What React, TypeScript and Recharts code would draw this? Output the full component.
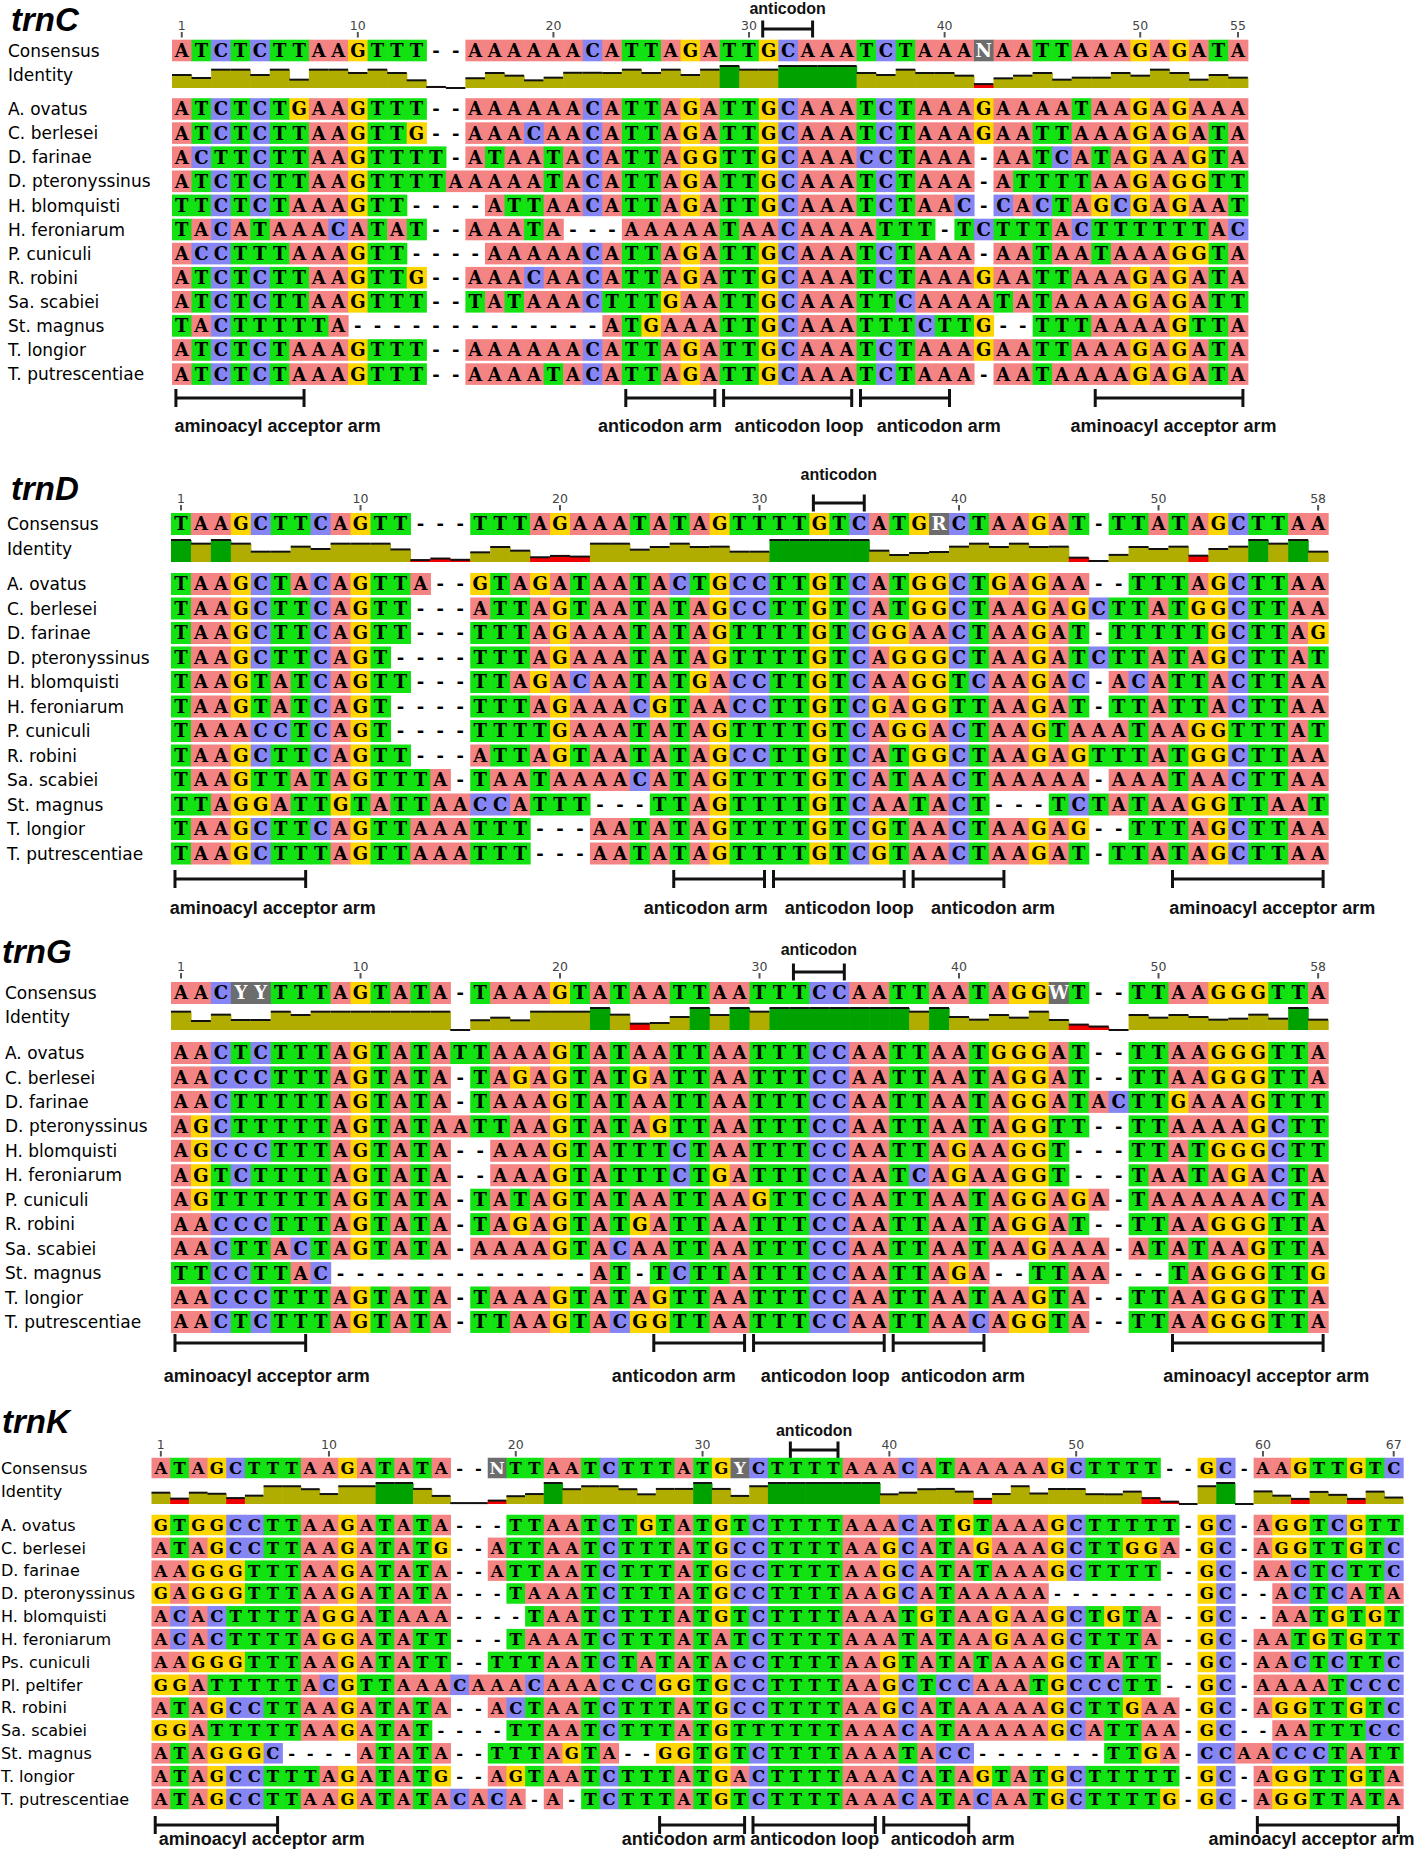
import React from 'react';
import { ComposedChart, Scatter, XAxis, YAxis, ReferenceLine } from 'recharts';

// ---------- trnC ----------
const trnCNames = ['A. ovatus', 'C. berlesei', 'D. farinae', 'D. pteronyssinus', 'H. blomquisti', 'H. feroniarum', 'P. cuniculi', 'R. robini', 'Sa. scabiei', 'St. magnus', 'T. longior', 'T. putrescentiae'];
const trnCConsensus = 'ATCTCTTAAGTTT--AAAAAACATTAGATTGCAAATCTAAANAATTAAAGAGATA';
const trnCSeqs = [
  'ATCTCTGAAGTTT--AAAAAACATTAGATTGCAAATCTAAAGAAAATAAGAGAAA',
  'ATCTCTTAAGTTG--AAACAACATTAGATTGCAAATCTAAAGAATTAAAGAGATA',
  'ACTTCTTAAGTTTT-ATAATACATTAGGTTGCAAACCTAAA-AATCATAGAAGTA',
  'ATCTCTTAAGTTTTAAAAATACATTAGATTGCAAATCTAAA-ATTTTAAGAGGTT',
  'TTCTCTAAAGTT----ATTAACATTAGATTGCAAATCTAAC-CACTAGCGAGAAT',
  'TACATAAACATAT--AAATA---AAAAATAACAAAATTT-TCTTTACTTTTTTAC',
  'ACCTTTAAAGTT----AAAAACATTAGATTGCAAATCTAAA-AATAATAAAGGTA',
  'ATCTCTTAAGTTG--AAACAACATTAGATTGCAAATCTAAAGAATTAAAGAGATA',
  'ATCTCTTAAGTTT--TATAAACTTTGAATTGCAAATTCAAAATATAAAAGAGATT',
  'TACTTTTTA-------------ATGAAATTGCAAATTTCTTG--TTTAAAAGTTA',
  'ATCTCTAAAGTTT--AAAAAACATTAGATTGCAAATCTAAAGAATTAAAGAGATA',
  'ATCTCTAAAGTTT--AAAATACATTAGATTGCAAATCTAAA-AATAAAAGAGATA',
];
const trnCTicks = [1, 10, 20, 30, 40, 50, 55];
const trnCAnticodon = [31, 33];
const trnCArms = [
  { label: 'aminoacyl acceptor arm', start: 1, end: 7, labelAt: 5.4 },
  { label: 'anticodon arm', start: 24, end: 28, labelAt: 24.95 },
  { label: 'anticodon loop', start: 29, end: 35, labelAt: 32.05 },
  { label: 'anticodon arm', start: 36, end: 40, labelAt: 39.2 },
  { label: 'aminoacyl acceptor arm', start: 48, end: 55, labelAt: 51.2 },
];

// ---------- trnD ----------
const trnDNames = trnCNames;
const trnDConsensus = 'TAAGCTTCAGTT---TTTAGAAATATAGTTTTGTCATGRCTAAGAT-TTATAGCTTAA';
const trnDSeqs = [
  'TAAGCTACAGTTA--GTAGATAATACTGCCTTGTCATGGCTGAGAA--TTTAGCTTAA',
  'TAAGCTTCAGTT---ATTAGTAATATAGCCTTGTCATGGCTAAGAGCTTATGGCTTAA',
  'TAAGCTTCAGTT---TTTAGAAATATAGTTTTGTCGGAACTAAGAT-TTTTTGCTTAG',
  'TAAGCTTCAGT----TTTAGAAATATAGTTTTGTCAGGGCTAAGATCTTATAGCTTAT',
  'TAAGTATCAGTT---TTAGACAATATGACCTTGTCAAGGTCAAGAC-ACATTACTTAA',
  'TAAGTATCAGT----TTTAGAAACGTAACCTTGTCGAGGTTAAGAT-TTATTACTTAA',
  'TAAACCTCAGT----TTTTGAAATATAGTTTTGTCAGGACTAAGTAAATAAGGTTTAT',
  'TAAGCTTCAGTT---ATTAGTAATATAGCCTTGTCATGGCTAAGAGTTTATGGCTTAA',
  'TAAGTTATAGTTTA-TAATAAAACATAGTTTTGTCATAACTAAAAA-AAATAACTTAA',
  'TTAGGATTGTATTAACCATTT---TTAGTTTTGTCAATACT---TCTATAAGGTTAAT',
  'TAAGCTTCAGTTAAATTT---AATATAGTTTTGTCGTAACTAAGAG--TTTAGCTTAA',
  'TAAGCTTTAGTTAAATTT---AATATAGTTTTGTCGTAACTAAGAT-TTATAGCTTAA',
];
const trnDTicks = [1, 10, 20, 30, 40, 50, 58];
const trnDAnticodon = [33, 35];
const trnDArms = [
  { label: 'aminoacyl acceptor arm', start: 1, end: 7, labelAt: 5.1 },
  { label: 'anticodon arm', start: 26, end: 30, labelAt: 26.8 },
  { label: 'anticodon loop', start: 31, end: 37, labelAt: 34.0 },
  { label: 'anticodon arm', start: 38, end: 42, labelAt: 41.2 },
  { label: 'aminoacyl acceptor arm', start: 51, end: 58, labelAt: 55.2 },
];

// ---------- trnG ----------
const trnGNames = trnCNames;
const trnGConsensus = 'AACYYTTTAGTATA-TAAAGTATAATTAATTTCCAATTAATAGGWT--TTAAGGGTTA';
const trnGSeqs = [
  'AACTCTTTAGTATATTAAAGTATAATTAATTTCCAATTAATGGGAT--TTAAGGGTTA',
  'AACCCTTTAGTATA-TAGAGTATGATTAATTTCCAATTAATAGGAT--TTAAGGGTTA',
  'AACTTTTTAGTATA-TAAAGTATAATTAATTTCCAATTAATAGGATACTTGAAAGTTT',
  'AGCTTTTTAGTATAATTAAGTATAGTTAATTTCCAATTAATAGGTT--TTAAAAGCTT',
  'AGCCCTTTAGTATA--AAAGTATTTCTAATTTCCAATTAGAAGGT---TTATGGGCTT',
  'AGTCTTTTAGTATA--AAAGTATTTCTGATTTCCAATCAGAAGGT---TAATAGACTA',
  'AGTTTTTTAGTATA-TATAGTATAATTAAGTTCCAATTAATAGGAGA-TAAAAAACTA',
  'AACCCTTTAGTATA-TAGAGTATGATTAATTTCCAATTAATAGGAT--TTAAGGGTTA',
  'AACTTACTAGTATA-AAAAGTACAATTAATTTCCAATTAATAAGAAA-ATATAAGTTA',
  'TTCCTTAC-------------AT-TCTTATTTCCAATTAGA--TTAA---TAGGGTTG',
  'AACCCTTTAGTATA-TAAAGTATAGTTAATTTCCAATTAATAAGTA--TTAAGGGTTA',
  'AACTCTTTAGTATA-TTAAGTACGGTTAATTTCCAATTAACAGGTA--TTAAGGGTTA',
];
const trnGTicks = [1, 10, 20, 30, 40, 50, 58];
const trnGAnticodon = [32, 34];
const trnGArms = [
  { label: 'aminoacyl acceptor arm', start: 1, end: 7, labelAt: 4.8 },
  { label: 'anticodon arm', start: 25, end: 29, labelAt: 25.2 },
  { label: 'anticodon loop', start: 30, end: 36, labelAt: 32.8 },
  { label: 'anticodon arm', start: 37, end: 41, labelAt: 39.7 },
  { label: 'aminoacyl acceptor arm', start: 51, end: 58, labelAt: 54.9 },
];

// ---------- trnK ----------
const trnKNames = ['A. ovatus', 'C. berlesei', 'D. farinae', 'D. pteronyssinus', 'H. blomquisti', 'H. feroniarum', 'Ps. cuniculi', 'Pl. peltifer', 'R. robini', 'Sa. scabiei', 'St. magnus', 'T. longior', 'T. putrescentiae'];
const trnKConsensus = 'ATAGCTTTAAGATATA--NTTAATCTTTATGYCTTTTAAACATAAAAAGCTTTT--GC-AAGTTGTC';
const trnKSeqs = [
  'GTGGCCTTAAGATATA---TTAATCTGTATGTCTTTTAAACATGTAAAGCTTTTT-GC-AGGTCGTT',
  'ATAGCCTTAAGATATG--ATTAATCTTTATGCCTTTTAAGCATAGAAAGCTTGGA-GC-AGGTTGTC',
  'AAGGGTTTAAGATATA--ATTAATCTTTATGCCTTTTAAGCATATAAAGCTTTT--GC-AACTCTTC',
  'GAGGGTTTAAGATATA---TAAATCTTTATGCCTTTTAAGCATAAAAA--------GC--ACTCATA',
  'ACACTTTTAGGATAAA----TAATCTTTATGTCTTTTAAATGTAAGAAGCTGTA--GC--AATGTGT',
  'ACACTTTTAGGATATT---TAAATCTTTATATCTTTTAAATATAAGAAGCTTTA--GC-AATGTGTT',
  'AAGGGTTTAAGATATT--TTTAATCTATATACCTTTTAAGTATATAAAGCTATT--GC-AACTCTTC',
  'GGATTTTTACGTTAAACAAACAAACCCGGTGCCTTTTAAGCTCCAAATGCCCTT--GC-AAAATCCC',
  'ATAGCCTTAAGATATA--ACTAATCTTTATGCCTTTTAAGCATAAAAAGCTTGAA-GC-AGGTTGTC',
  'GGATTTTTAAGATAT----TTAATCTTTATGTTTTTTAAACATAAAAAGCATTAA-GC--AATTTCC',
  'ATAGGGC----ATATA--TTTAGTA--GGTGTCTTTTAAATACC-------TTGA-CCAACCCTATT',
  'ATAGCCTTTAGATATG--AGTAATCTTTATGACTTTTAAACATAGTATGCTTTTT-GC-AGGTTGTA',
  'ATAGCCTTAAGATATACACA-A-TCTTTATGTCTTTTAAACATACAATGCTTTTG-GC-AGGTTATA',
];
const trnKTicks = [1, 10, 20, 30, 40, 50, 60, 67];
const trnKAnticodon = [35, 37];
const trnKArms = [
  { label: 'aminoacyl acceptor arm', start: 1, end: 7, labelAt: 5.9 },
  { label: 'anticodon arm', start: 28, end: 32, labelAt: 28.5 },
  { label: 'anticodon loop', start: 33, end: 39, labelAt: 35.5 },
  { label: 'anticodon arm', start: 40, end: 44, labelAt: 42.9 },
  { label: 'aminoacyl acceptor arm', start: 60, end: 67, labelAt: 62.1 },
];

const BASE_COLORS: Record<string, string> = {
  A: '#f48484',
  C: '#8585f4',
  G: '#fdd500',
  T: '#12e212',
};
const AMBIG_COLOR = '#6d6d6d';
const ID_FULL = '#00a200';
const ID_MID = '#b0ad00';
const ID_LOW = '#f00000';

// Geneious-style identity: share of identical pairs, pairs of two gaps skipped
function columnIdentity(seqs: string[], i: number) {
  let same = 0;
  let total = 0;
  for (let a = 0; a < seqs.length; a++) {
    for (let b = a + 1; b < seqs.length; b++) {
      const p = seqs[a][i];
      const q = seqs[b][i];
      if (p === '-' && q === '-') continue;
      total++;
      if (p === q) same++;
    }
  }
  return { value: total ? same / total : 0, full: total > 0 && same === total };
}

interface Layout {
  top: number;
  height: number;
  x0: number;
  colW: number;
  titleX: number;
  titleY: number;
  acLabelY: number;
  acBracketY: number;
  tickY: number;
  consY: number;
  idTop: number;
  idBase: number;
  idLabelY: number;
  rowY0: number;
  pitch: number;
  cellH: number;
  bracketY: number;
  labelY: number;
  seqFont: number;
  nameFont: number;
  nameX: number;
}

const layoutC: Layout = {
  top: 0, height: 450, x0: 172, colW: 19.56, titleX: 11, titleY: 19, acLabelY: 8, acBracketY: 29,
  tickY: 26, consY: 50.5, idTop: 66, idBase: 88, idLabelY: 75, rowY0: 109, pitch: 24.1, cellH: 21.6,
  bracketY: 398, labelY: 426, seqFont: 18, nameFont: 17, nameX: 8,
};
const layoutD: Layout = {
  top: 455, height: 470, x0: 171, colW: 19.95, titleX: 11, titleY: 488, acLabelY: 474, acBracketY: 503,
  tickY: 499, consY: 524, idTop: 540, idBase: 562, idLabelY: 549, rowY0: 584, pitch: 24.5, cellH: 22,
  bracketY: 879, labelY: 908, seqFont: 18, nameFont: 17, nameX: 7,
};
const layoutG: Layout = {
  top: 925, height: 470, x0: 171, colW: 19.95, titleX: 2, titleY: 951, acLabelY: 949, acBracketY: 972,
  tickY: 967, consY: 993, idTop: 1008, idBase: 1030, idLabelY: 1017, rowY0: 1053, pitch: 24.45, cellH: 22,
  bracketY: 1343, labelY: 1376, seqFont: 18, nameFont: 17, nameX: 5,
};
const layoutK: Layout = {
  top: 1395, height: 457, x0: 151.5, colW: 18.68, titleX: 2, titleY: 1421, acLabelY: 1430, acBracketY: 1450,
  tickY: 1445, consY: 1468, idTop: 1483, idBase: 1504, idLabelY: 1491, rowY0: 1525, pitch: 22.83, cellH: 20.5,
  bracketY: 1825, labelY: 1839, seqFont: 16.5, nameFont: 16, nameX: 1,
};

interface Arm {
  label: string;
  start: number;
  end: number;
  labelAt: number;
}

interface PanelProps {
  title: string;
  names: string[];
  consensus: string;
  seqs: string[];
  ticks: number[];
  anticodon: number[];
  arms: Arm[];
  L: Layout;
}

const Panel: React.FC<PanelProps> = ({ title, names, consensus, seqs, ticks, anticodon, arms, L }) => {
  const n = consensus.length;
  const H = L.height;
  const toRow = (yAbs: number) => (yAbs - L.rowY0) / L.pitch;
  const rowDomain = [toRow(L.top), toRow(L.top + H)];
  const idScale = L.idBase - L.idTop;
  const idDomain = [(L.idBase - L.top - H) / idScale, (L.idBase - L.top) / idScale];
  const consRow = toRow(L.consY);

  const cells: any[] = [];
  consensus.split('').forEach((b, i) => cells.push({ x: i + 0.5, y: consRow, b }));
  seqs.forEach((seq, r) => seq.split('').forEach((b, i) => cells.push({ x: i + 0.5, y: r, b })));

  const identity = consensus.split('').map((_, i) => {
    const id = columnIdentity(seqs, i);
    return { x: i + 0.5, y: id.value, full: id.full };
  });

  const tickData = ticks.map((t) => ({ x: t - 0.5, y: toRow(L.tickY), text: String(t) }));

  const texts = [
    { x: (anticodon[0] - 0.8 + anticodon[1] - 0.25) / 2, y: toRow(L.acLabelY), text: 'anticodon', size: 16 },
    ...arms.map((a) => ({ x: a.labelAt, y: toRow(L.labelY), text: a.label, size: 18 })),
  ];

  const sideLabels = [
    { v: toRow(L.titleY), text: title, kind: 'title' },
    { v: consRow, text: 'Consensus', kind: 'name' },
    { v: toRow(L.idLabelY), text: 'Identity', kind: 'name' },
    ...names.map((nm, i) => ({ v: i, text: nm, kind: 'name' })),
  ];

  const renderSide = (props: any) => {
    const { y, payload } = props;
    const item = sideLabels.find((s) => Math.abs(s.v - payload.value) < 1e-6);
    if (!item) return <g />;
    if (item.kind === 'title') {
      return (
        <text x={L.titleX} y={y} dy="0.36em" fontFamily="Liberation Sans, Arial, sans-serif" fontWeight="bold"
          fontStyle="italic" fontSize={33} fill="#000">{item.text}</text>
      );
    }
    return (
      <text x={L.nameX} y={y} dy="0.36em" fontFamily="DejaVu Sans, sans-serif" fontSize={L.nameFont} fill="#000">
        {item.text}
      </text>
    );
  };

  const cellShape = (p: any) => {
    const { cx, cy, payload } = p;
    const b = payload.b;
    const known = BASE_COLORS[b];
    const ambig = b !== '-' && !known;
    return (
      <g>
        {b !== '-' && (
          <rect x={cx - L.colW / 2} y={cy - L.cellH / 2} width={L.colW + 0.6} height={L.cellH}
            fill={ambig ? AMBIG_COLOR : known} />
        )}
        <text x={cx} y={cy} dy="0.36em" textAnchor="middle" fontFamily="DejaVu Serif, serif"
          fontWeight="bold" fontSize={L.seqFont} fill={ambig ? '#fff' : '#000'}>{b}</text>
      </g>
    );
  };

  const idShape = (p: any) => {
    const { cx, cy, payload } = p;
    const base = L.idBase - L.top;
    const fill = payload.full ? ID_FULL : payload.y < 0.3 ? ID_LOW : ID_MID;
    return (
      <g>
        {base - cy > 0.5 && <rect x={cx - L.colW / 2} y={cy} width={L.colW + 0.6} height={base - cy} fill={fill} />}
        <line x1={cx - L.colW / 2} x2={cx + L.colW / 2} y1={cy} y2={cy} stroke="#111" strokeWidth={2} />
      </g>
    );
  };

  const tickShape = (p: any) => {
    const { cx, cy, payload } = p;
    return (
      <g>
        <text x={cx} y={cy} dy="0.35em" textAnchor="middle" fontFamily="DejaVu Sans, sans-serif" fontSize={12.5}
          fill="#444">{payload.text}</text>
        <line x1={cx} x2={cx} y1={cy + 6} y2={cy + 11.5} stroke="#555" strokeWidth={2} />
      </g>
    );
  };

  const textShape = (p: any) => {
    const { cx, cy, payload } = p;
    return (
      <text x={cx} y={cy} dy="0.35em" textAnchor="middle" fontFamily="Liberation Sans, Arial, sans-serif"
        fontWeight="bold" fontSize={payload.size} fill="#111">{payload.text}</text>
    );
  };

  const bracket = (key: string, s: number, e: number, yAbs: number, half: number) => {
    const x1 = s - 0.8;
    const x2 = e - 0.25;
    const yc = toRow(yAbs);
    const ya = toRow(yAbs - half);
    const yb = toRow(yAbs + half);
    return [
      <ReferenceLine key={key + 'h'} yAxisId="rows" ifOverflow="visible" stroke="#111" strokeWidth={3}
        segment={[{ x: x1, y: yc }, { x: x2, y: yc }]} />,
      <ReferenceLine key={key + 'l'} yAxisId="rows" ifOverflow="visible" stroke="#111" strokeWidth={3}
        segment={[{ x: x1, y: ya }, { x: x1, y: yb }]} />,
      <ReferenceLine key={key + 'r'} yAxisId="rows" ifOverflow="visible" stroke="#111" strokeWidth={3}
        segment={[{ x: x2, y: ya }, { x: x2, y: yb }]} />,
    ];
  };

  return (
    <div style={{ position: 'absolute', left: 0, top: L.top, width: 1418, height: H }}>
      <ComposedChart width={1418} height={H}
        margin={{ top: 0, bottom: 0, left: 0, right: 1418 - L.x0 - n * L.colW }}>
        <XAxis type="number" dataKey="x" domain={[0, n]} hide />
        <YAxis yAxisId="rows" type="number" dataKey="y" domain={rowDomain} reversed width={L.x0}
          ticks={sideLabels.map((s) => s.v)} interval={0} tick={renderSide} axisLine={false} tickLine={false} />
        <YAxis yAxisId="id" type="number" dataKey="y" domain={idDomain} hide />
        <Scatter yAxisId="id" data={identity} shape={idShape} isAnimationActive={false} />
        <Scatter yAxisId="rows" data={cells} shape={cellShape} isAnimationActive={false} />
        <Scatter yAxisId="rows" data={tickData} shape={tickShape} isAnimationActive={false} />
        <Scatter yAxisId="rows" data={texts} shape={textShape} isAnimationActive={false} />
        {bracket('ac', anticodon[0], anticodon[1], L.acBracketY, 8.5)}
        {arms.map((a, i) => bracket('arm' + i, a.start, a.end, L.bracketY, 9))}
      </ComposedChart>
    </div>
  );
};

const App: React.FC = () => {
  return (
    <div style={{ position: 'absolute', left: 0, top: 0, width: 1418, height: 1852, background: '#ffffff', overflow: 'hidden' }}>
      <Panel title="trnC" names={trnCNames} consensus={trnCConsensus} seqs={trnCSeqs} ticks={trnCTicks}
        anticodon={trnCAnticodon} arms={trnCArms} L={layoutC} />
      <Panel title="trnD" names={trnDNames} consensus={trnDConsensus} seqs={trnDSeqs} ticks={trnDTicks}
        anticodon={trnDAnticodon} arms={trnDArms} L={layoutD} />
      <Panel title="trnG" names={trnGNames} consensus={trnGConsensus} seqs={trnGSeqs} ticks={trnGTicks}
        anticodon={trnGAnticodon} arms={trnGArms} L={layoutG} />
      <Panel title="trnK" names={trnKNames} consensus={trnKConsensus} seqs={trnKSeqs} ticks={trnKTicks}
        anticodon={trnKAnticodon} arms={trnKArms} L={layoutK} />
    </div>
  );
};

export default App;
